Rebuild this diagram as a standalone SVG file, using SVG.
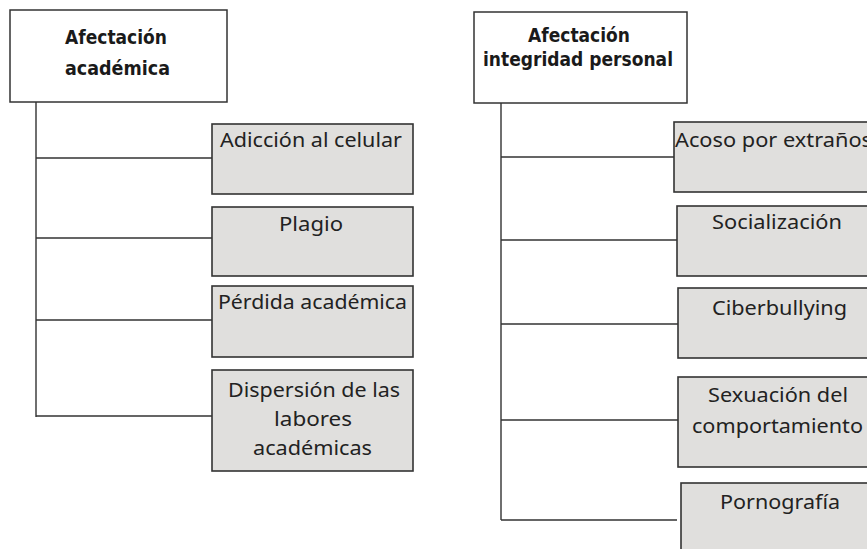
<svg xmlns="http://www.w3.org/2000/svg" width="867" height="549" viewBox="0 0 867 549">
<style>
.hdr{fill:#ffffff;stroke:#333333;stroke-width:1.5}
.box{fill:#e0dfdd;stroke:#333333;stroke-width:1.6}
.conn{stroke:#333333;stroke-width:1.4;fill:none}
.ht{font-family:"DejaVu Sans","Noto Sans",sans-serif;font-weight:bold;font-size:20px;fill:#1a1a1a}
.bt{font-family:"Noto Sans","Open Sans",sans-serif;font-size:20px;fill:#222222}
</style>
<rect width="867" height="549" fill="#ffffff"/>
<g id="connectors">
<path class="conn" d="M36 102 V417 M36 158 H212 M36 238 H212 M36 320 H212 M36 416 H212"/>
<path class="conn" d="M501 103 V520 M501 157 H674 M501 240 H677 M501 324 H678 M501 420 H678 M501 520 H677"/>
</g>
<g id="n-afectacion-academica">
<rect class="hdr" x="10" y="10" width="217" height="92"/>
<text class="ht" x="65" y="44" textLength="102" lengthAdjust="spacingAndGlyphs">Afectación</text>
<text class="ht" x="65" y="75" textLength="105" lengthAdjust="spacingAndGlyphs">académica</text>
</g>
<g id="n-adiccion">
<rect class="box" x="212" y="124" width="201" height="70"/>
<text class="bt" x="220" y="147" textLength="182" lengthAdjust="spacingAndGlyphs">Adicción al celular</text>
</g>
<g id="n-plagio">
<rect class="box" x="212" y="207" width="201" height="69"/>
<text class="bt" x="279" y="231" textLength="64" lengthAdjust="spacingAndGlyphs">Plagio</text>
</g>
<g id="n-perdida">
<rect class="box" x="212" y="286" width="201" height="71"/>
<text class="bt" x="218" y="309" textLength="189" lengthAdjust="spacingAndGlyphs">Pérdida académica</text>
</g>
<g id="n-dispersion">
<rect class="box" x="212" y="370" width="201" height="101"/>
<text class="bt" x="228" y="397" textLength="172" lengthAdjust="spacingAndGlyphs">Dispersión de las</text>
<text class="bt" x="274" y="426" textLength="78" lengthAdjust="spacingAndGlyphs">labores</text>
<text class="bt" x="253" y="455" textLength="119" lengthAdjust="spacingAndGlyphs">académicas</text>
</g>
<g id="n-afectacion-integridad">
<rect class="hdr" x="474" y="12" width="213" height="91"/>
<text class="ht" x="528" y="42" textLength="102" lengthAdjust="spacingAndGlyphs">Afectación</text>
<text class="ht" x="483" y="66" textLength="190" lengthAdjust="spacingAndGlyphs">integridad personal</text>
</g>
<g id="n-acoso">
<rect class="box" x="674" y="122" width="210" height="70"/>
<text class="bt" x="675" y="147" textLength="197" lengthAdjust="spacingAndGlyphs">Acoso por extraños</text>
</g>
<g id="n-socializacion">
<rect class="box" x="677" y="206" width="210" height="70"/>
<text class="bt" x="712" y="229" textLength="130" lengthAdjust="spacingAndGlyphs">Socialización</text>
</g>
<g id="n-ciberbullying">
<rect class="box" x="678" y="288" width="210" height="70"/>
<text class="bt" x="712" y="315" textLength="135" lengthAdjust="spacingAndGlyphs">Ciberbullying</text>
</g>
<g id="n-sexuacion">
<rect class="box" x="678" y="377" width="210" height="90"/>
<text class="bt" x="708" y="402" textLength="140" lengthAdjust="spacingAndGlyphs">Sexuación del</text>
<text class="bt" x="692" y="433" textLength="171" lengthAdjust="spacingAndGlyphs">comportamiento</text>
</g>
<g id="n-pornografia">
<rect class="box" x="681" y="483" width="210" height="90"/>
<text class="bt" x="720" y="509" textLength="120" lengthAdjust="spacingAndGlyphs">Pornografía</text>
</g>
</svg>
